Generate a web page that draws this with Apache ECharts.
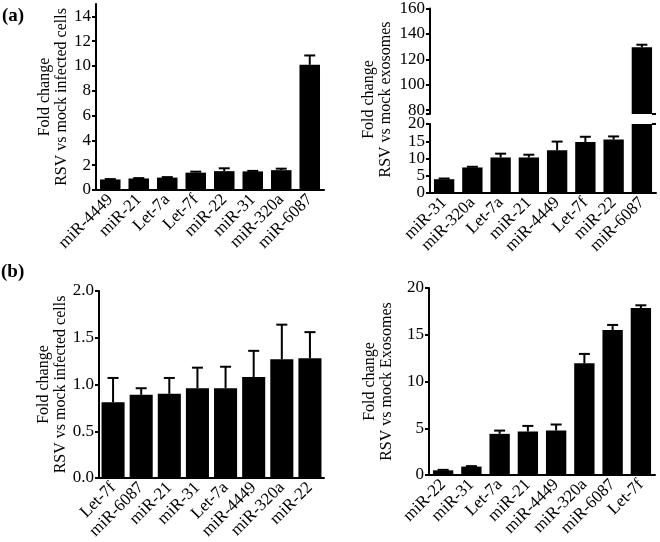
<!DOCTYPE html>
<html><head><meta charset="utf-8">
<script src="https://cdn.jsdelivr.net/npm/echarts@6/dist/echarts.min.js"></script>
<style>html,body{margin:0;padding:0;background:#fff}#c{width:660px;height:542px}</style>
</head><body><div id="c"></div>
<script>
// Panel (a) left: RSV vs mock infected cells
const catA = ['miR-4449','miR-21','Let-7a','Let-7f','miR-22','miR-31','miR-320a','miR-6087'];
const valA = [0.85, 0.93, 1.0, 1.4, 1.52, 1.5, 1.6, 10.1];
const errA = [0.88, 0.96, 1.04, 1.48, 1.75, 1.54, 1.72, 10.85];
const ticksA = [0, 2, 4, 6, 8, 10, 12, 14];

// Panel (a) right: RSV vs mock exosomes (broken axis)
const catB = ['miR-31','miR-320a','Let-7a','miR-21','miR-4449','Let-7f','miR-22','miR-6087'];
const valB = [4.0, 7.4, 10.3, 10.3, 12.4, 14.8, 15.5, 129.5];
const errB = [4.2, 7.6, 11.4, 11.1, 14.9, 16.3, 16.4, 131.5];
const ticksBLow = [0, 5, 10, 15, 20];
const ticksBHigh = [80, 100, 120, 140, 160];

// Panel (b) left
const catC = ['Let-7f','miR-6087','miR-21','miR-31','Let-7a','miR-4449','miR-320a','miR-22'];
const valC = [0.81, 0.89, 0.90, 0.96, 0.96, 1.08, 1.27, 1.28];
const errC = [1.07, 0.96, 1.07, 1.18, 1.19, 1.36, 1.64, 1.56];
const ticksC = [0, 0.5, 1.0, 1.5, 2.0];

// Panel (b) right
const catD = ['miR-22','miR-31','Let-7a','miR-21','miR-4449','miR-320a','miR-6087','Let-7f'];
const valD = [0.5, 0.9, 4.4, 4.65, 4.75, 11.95, 15.5, 17.85];
const errD = [0.55, 0.95, 4.75, 5.25, 5.4, 12.95, 16.05, 18.15];
const ticksD = [0, 5, 10, 15, 20];

const FONT = 'Liberation Serif';
const BLow = {min: 0, max: 20};
const BHigh = {min: 77, max: 160};

const lineStyle = {color: '#000', width: 2};
function xAx(grid, cats, show) {
  return {
    type: 'category', gridIndex: grid, data: cats, show: show !== false,
    axisLine: {lineStyle}, axisTick: {alignWithLabel: true, length: 5, lineStyle},
    axisLabel: {rotate: 45, fontFamily: FONT, fontSize: 17, color: '#000', margin: 7, interval: 0}
  };
}
function yAx(grid, min, max, labelVals, tickVals, name, gap, fmt) {
  return {
    type: 'value', gridIndex: grid, min, max, splitLine: {show: false},
    axisLine: {show: true, lineStyle},
    axisTick: {show: true, length: 4, lineStyle, customValues: tickVals},
    axisLabel: {fontFamily: FONT, fontSize: 17, color: '#000', margin: 5, customValues: labelVals,
      formatter: fmt || (v => String(v))},
    name: name || '', nameLocation: 'middle', nameGap: gap || 0,
    nameTextStyle: {fontFamily: FONT, fontSize: 16, color: '#000', lineHeight: 17}
  };
}
function barS(xi, yi, vals, w) {
  return {type: 'bar', xAxisIndex: xi, yAxisIndex: yi, data: vals, barWidth: w || '72%',
    itemStyle: {color: '#000'}, clip: true, silent: true, animation: false};
}
function errS(xi, yi, vals, errs, keep) {
  const data = [];
  vals.forEach((v, i) => { if (keep(v)) data.push([i, v, errs[i]]); });
  return {
    type: 'custom', xAxisIndex: xi, yAxisIndex: yi, data, z: 3, silent: true, animation: false,
    encode: {x: 0, y: [1, 2]},
    renderItem(params, api) {
      const i = api.value(0), v = api.value(1), e = api.value(2);
      const p0 = api.coord([i, v]), p1 = api.coord([i, e]);
      const w = 11;
      return {type: 'group', children: [
        {type: 'line', shape: {x1: p0[0], y1: p0[1], x2: p1[0], y2: p1[1]}, style: {stroke: '#000', lineWidth: 2}},
        {type: 'line', shape: {x1: p1[0] - w / 2, y1: p1[1], x2: p1[0] + w / 2, y2: p1[1]}, style: {stroke: '#000', lineWidth: 2}}
      ]};
    }
  };
}

const nameA = 'Fold change\nRSV vs mock infected cells';
const nameB = 'Fold change\nRSV vs mock exosomes';
const nameC = 'Fold change\nRSV vs mock infected cells';
const nameD = 'Fold change\nRSV vs mock Exosomes';

const option = {
  animation: false,
  backgroundColor: '#fff',
  grid: [
    {left: 96, top: 4, width: 228, height: 186},
    {left: 430, top: 6, width: 226, height: 108},
    {left: 430, top: 124, width: 226, height: 69},
    {left: 99, top: 291, width: 225, height: 187},
    {left: 429, top: 288, width: 226, height: 187},
    {left: 430, top: 6, width: 226, height: 187}
  ],
  xAxis: [
    xAx(0, catA), xAx(1, catB, false), xAx(2, catB), xAx(3, catC), xAx(4, catD),
    {type: 'category', gridIndex: 5, data: catB, show: false}
  ],
  yAxis: [
    yAx(0, 0, 15, ticksA, ticksA, nameA, 23.5),
    yAx(1, BHigh.min, BHigh.max, ticksBHigh, [BHigh.min].concat(ticksBHigh)),
    yAx(2, BLow.min, BLow.max, ticksBLow, ticksBLow),
    yAx(3, 0, 2, ticksC, ticksC, nameC, 24.5, v => v.toFixed(1)),
    yAx(4, 0, 20, ticksD, ticksD, nameD, 33.5),
    // name-only axis spanning the broken panel
    {type: 'value', gridIndex: 5, min: 0, max: 1, axisLine: {show: false}, axisTick: {show: false},
      axisLabel: {show: false}, splitLine: {show: false},
      name: nameB, nameLocation: 'middle', nameGap: 35.5,
      nameTextStyle: {fontFamily: FONT, fontSize: 16, color: '#000', lineHeight: 17}},
    // inside halves of the break marks
    {type: 'value', gridIndex: 1, min: BHigh.min, max: BHigh.max, axisLine: {show: false},
      axisTick: {show: true, inside: true, length: 4, lineStyle, customValues: [BHigh.min]},
      axisLabel: {show: false}, splitLine: {show: false}},
    {type: 'value', gridIndex: 2, min: BLow.min, max: BLow.max, axisLine: {show: false},
      axisTick: {show: true, inside: true, length: 4, lineStyle, customValues: [BLow.max]},
      axisLabel: {show: false}, splitLine: {show: false}}
  ],
  series: [
    barS(0, 0, valA), errS(0, 0, valA, errA, () => true),
    barS(1, 1, valB.map(v => v > BHigh.min ? v : '-')), errS(1, 1, valB, errB, v => v > BHigh.min),
    barS(2, 2, valB), errS(2, 2, valB, errB, v => v <= BLow.max),
    barS(3, 3, valC, '82%'), errS(3, 3, valC, errC, () => true),
    barS(4, 4, valD), errS(4, 4, valD, errD, () => true)
  ],
  graphic: [
    {type: 'text', left: 2, top: 7, style: {text: '(a)', fontFamily: FONT, fontSize: 19, fontWeight: 'bold', fill: '#000'}},
    {type: 'text', left: 1, top: 263, style: {text: '(b)', fontFamily: FONT, fontSize: 19, fontWeight: 'bold', fill: '#000'}}
  ]
};
const chart = echarts.init(document.getElementById('c'), null, {renderer: 'canvas'});
chart.setOption(option);
</script>
</body></html>
